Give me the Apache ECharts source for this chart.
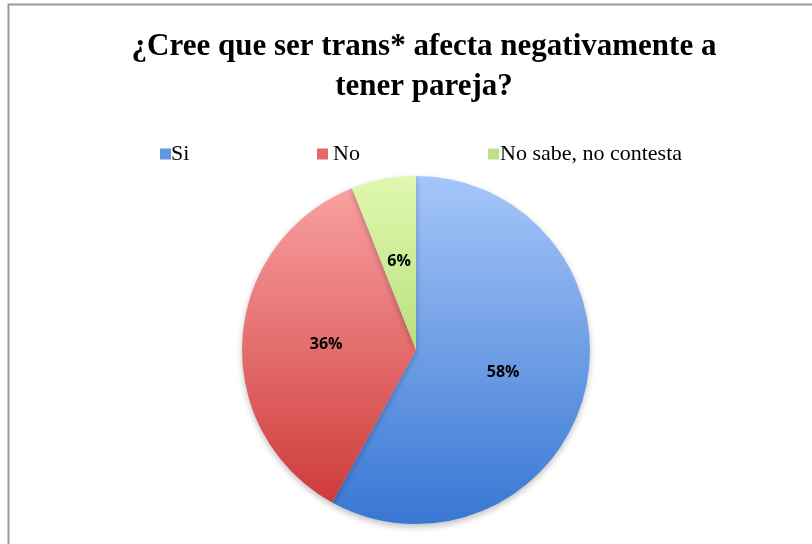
<!DOCTYPE html>
<html><head><meta charset="utf-8">
<script src="https://cdn.jsdelivr.net/npm/echarts@6/dist/echarts.min.js"></script>
<style>html,body{margin:0;padding:0;background:#fff}#c{width:812px;height:544px}</style>
</head><body><div id="c"></div>
<script>
const titleText = '¿Cree que ser trans* afecta negativamente a\ntener pareja?';
const categories = ['Si', 'No', 'No sabe, no contesta'];
const values = [58, 36, 6];
const labels = ['58%', '36%', '6%'];

const cx = 416, cy = 350, R = 174;
function grad(top, bottom) {
  return new echarts.graphic.LinearGradient(0, cy - R, 0, cy + R, [
    {offset: 0, color: top}, {offset: 1, color: bottom}
  ], true);
}
const fills = [grad('#A6C6F9', '#3877D3'), grad('#FBA4A4', '#CC3434'), grad('#E0F8AE', '#8FC850')];
const legendColors = ['#6196E2', '#E26A6A', '#BCE284'];
const legendLeft = [155, 312, 483];
const legendPad = [-5, 0, -4];

const chart = echarts.init(document.getElementById('c'));
chart.setOption({
  animation: false,
  color: legendColors,
  title: {
    text: titleText, left: 419, top: 22, textAlign: 'center',
    textStyle: {fontFamily: 'Liberation Serif', fontWeight: 'bold', fontSize: 31, lineHeight: 40, color: '#000'}
  },
  legend: categories.map((c, i) => ({
    data: [{name: c, itemStyle: {color: legendColors[i]}}],
    left: legendLeft[i], top: 138, itemWidth: 11, itemHeight: 11, itemGap: 0,
    icon: 'rect', selectedMode: false,
    textStyle: {fontFamily: 'Liberation Serif', fontSize: 22, color: '#000', padding: [0, 0, 0, legendPad[i]]}
  })),
  graphic: [{
    type: 'rect', shape: {x: 8.5, y: 4.5, width: 820, height: 560},
    style: {fill: 'none', stroke: '#9a9a9a', lineWidth: 2}, silent: true, z: -1
  }],
  series: [{
    type: 'pie', center: [cx, cy], radius: R, startAngle: 90, clockwise: true,
    label: {position: 'inside', formatter: p => labels[p.dataIndex],
      fontFamily: 'Open Sans', fontWeight: 'bold', fontSize: 16, color: '#000'},
    labelLine: {show: false},
    emphasis: {disabled: true},
    itemStyle: {borderWidth: 0, shadowBlur: 6, shadowOffsetY: 3, shadowColor: 'rgba(0,0,0,0.25)'},
    data: categories.map((c, i) => ({name: c, value: values[i], itemStyle: {color: fills[i]}}))
  }]
});
</script></body></html>
